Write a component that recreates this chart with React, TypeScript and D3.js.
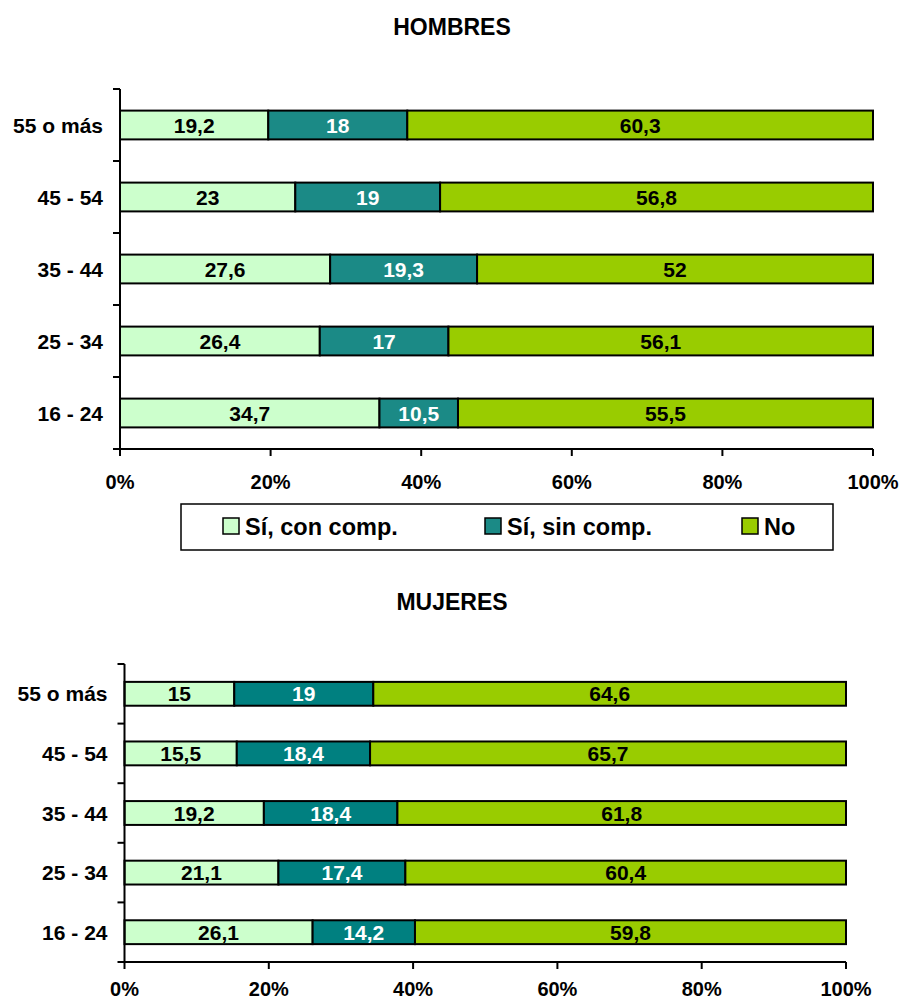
import React from "react";
import * as d3 from "d3";

// Age groups, drawn top to bottom
const ageGroups = ["55 o más", "45 - 54", "35 - 44", "25 - 34", "16 - 24"];

// Series names (legend)
const seriesNames = ["Sí, con comp.", "Sí, sin comp.", "No"];

// Men
const menConComp = [19.2, 23, 27.6, 26.4, 34.7];
const menSinComp = [18, 19, 19.3, 17, 10.5];
const menNo = [60.3, 56.8, 52, 56.1, 55.5];

// Women
const womenConComp = [15, 15.5, 19.2, 21.1, 26.1];
const womenSinComp = [19, 18.4, 18.4, 17.4, 14.2];
const womenNo = [64.6, 65.7, 61.8, 60.4, 59.8];

// Axis ticks
const xTickValues = [0, 0.2, 0.4, 0.6, 0.8, 1];
const xTickLabels = ["0%", "20%", "40%", "60%", "80%", "100%"];

const FONT = "'Liberation Sans', Arial, sans-serif";
const LIGHT = "#CCFFCC";
const GREEN = "#99CC00";

type PanelProps = {
  title: string;
  titleY: number;
  con: number[];
  sin: number[];
  no: number[];
  x0: number;
  x1: number;
  yTop: number;
  yBot: number;
  tickLabelDy: number;
  teal: string;
};

function Panel({ title, titleY, con, sin, no, x0, x1, yTop, yBot, tickLabelDy, teal }: PanelProps) {
  const rows = ageGroups.map((g, i) => ({ group: g, a: con[i], b: sin[i], c: no[i] }));
  const keys = ["a", "b", "c"];
  const stack = d3.stack<any>().keys(keys).offset(d3.stackOffsetExpand);
  const layers = stack(rows);

  const x = d3.scaleLinear().domain([0, 1]).range([x0, x1]);
  const y = d3.scaleBand<string>().domain(ageGroups).range([yTop, yBot]).padding(0);
  const bw = y.bandwidth();
  const bh = bw * 0.4;

  const fills = [LIGHT, teal, GREEN];
  const textColors = ["#000", "#fff", "#000"];
  const boundaries = d3.range(ageGroups.length + 1).map((i) => yTop + i * bw);
  const fmt = (v: number) => String(v).replace(".", ",");

  return (
    <g fontFamily={FONT} fontWeight="bold">
      <text x={452} y={titleY} textAnchor="middle" fontSize={23}>
        {title}
      </text>
      {layers.map((layer, li) => (
        <g key={li}>
          {layer.map((d, i) => {
            const g = ageGroups[i];
            const yc = (y(g) as number) + bw / 2;
            const xa = x(d[0]);
            const xb = x(d[1]);
            const raw = (rows[i] as any)[keys[li]] as number;
            return (
              <g key={g}>
                <rect
                  x={xa}
                  y={yc - bh / 2}
                  width={xb - xa}
                  height={bh}
                  fill={fills[li]}
                  stroke="#000"
                  strokeWidth={2}
                />
                <text
                  x={(xa + xb) / 2}
                  y={yc}
                  dy="0.36em"
                  textAnchor="middle"
                  fontSize={21}
                  fill={textColors[li]}
                >
                  {fmt(raw)}
                </text>
              </g>
            );
          })}
        </g>
      ))}
      {/* y axis */}
      <line x1={x0} x2={x0} y1={yTop} y2={yBot} stroke="#000" strokeWidth={2} />
      {boundaries.map((b, i) => (
        <line key={i} x1={x0 - 7} x2={x0} y1={b} y2={b} stroke="#000" strokeWidth={2} />
      ))}
      {ageGroups.map((g) => (
        <text
          key={g}
          x={x0 - 17}
          y={(y(g) as number) + bw / 2}
          dy="0.36em"
          textAnchor="end"
          fontSize={21}
        >
          {g}
        </text>
      ))}
      {/* x axis */}
      <line x1={x0} x2={x1} y1={yBot} y2={yBot} stroke="#000" strokeWidth={2} />
      {xTickValues.map((t, i) => (
        <g key={t}>
          <line x1={x(t)} x2={x(t)} y1={yBot} y2={yBot + 7} stroke="#000" strokeWidth={2} />
          <text x={x(t)} y={yBot + tickLabelDy} textAnchor="middle" fontSize={20}>
            {xTickLabels[i]}
          </text>
        </g>
      ))}
    </g>
  );
}

function Legend() {
  const items = [
    { name: seriesNames[0], fill: LIGHT, sx: 223 },
    { name: seriesNames[1], fill: "#1B8A86", sx: 485 },
    { name: seriesNames[2], fill: GREEN, sx: 742 },
  ];
  return (
    <g fontFamily={FONT} fontWeight="bold">
      <rect x={181} y={504} width={652} height={46} fill="#fff" stroke="#000" strokeWidth={1.5} />
      {items.map((it) => (
        <g key={it.name}>
          <rect x={it.sx} y={518} width={16} height={16} fill={it.fill} stroke="#000" strokeWidth={1.5} />
          <text x={it.sx + 22} y={527} dy="0.36em" fontSize={23.5}>
            {it.name}
          </text>
        </g>
      ))}
    </g>
  );
}

export default function App() {
  return (
    <svg
      width={901}
      height={1001}
      style={{ position: "absolute", left: 0, top: 0, background: "#fff" }}
    >
      <rect width={901} height={1001} fill="#fff" />
      <Panel
        title="HOMBRES"
        titleY={35}
        con={menConComp}
        sin={menSinComp}
        no={menNo}
        x0={120}
        x1={873}
        yTop={89}
        yBot={449}
        tickLabelDy={40}
        teal="#1B8A86"
      />
      <Legend />
      <Panel
        title="MUJERES"
        titleY={610}
        con={womenConComp}
        sin={womenSinComp}
        no={womenNo}
        x0={124.5}
        x1={846}
        yTop={664}
        yBot={962}
        tickLabelDy={34}
        teal="#008080"
      />
    </svg>
  );
}
